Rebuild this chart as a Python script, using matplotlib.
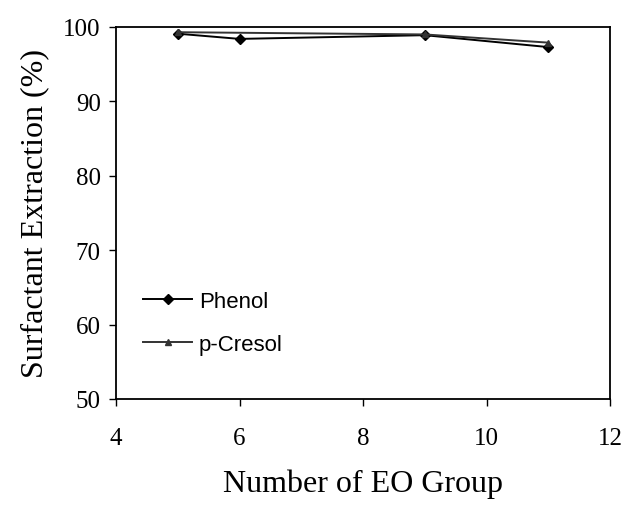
import matplotlib
matplotlib.use("Agg")
import matplotlib.pyplot as plt

eo_groups = [5, 6, 9, 11]
phenol = [99.1, 98.4, 98.9, 97.3]
eo_cresol = [5, 9, 11]
cresol = [99.3, 99.0, 97.9]

plt.rcParams['font.family'] = ['Liberation Serif', 'DejaVu Serif']

fig = plt.figure(figsize=(6.32, 5.06), dpi=100)
ax = fig.add_axes([116/632, 1-400/506, (610-116)/632, (400-28)/506])

ax.plot(eo_groups, phenol, color='black', lw=1.4, marker='D', ms=5, label='Phenol')
ax.plot(eo_cresol, cresol, color='#333333', lw=1.4, marker='^', ms=5, label='p-Cresol')

ax.set_xlim(4, 12)
ax.set_ylim(50, 100)
ax.set_xticks([4, 6, 8, 10, 12])
ax.set_yticks([50, 60, 70, 80, 90, 100])
ax.tick_params(axis='both', labelsize=18, direction='out', length=5, width=1)
ax.tick_params(axis='x', pad=15)
ax.tick_params(axis='y', pad=6)
for s in ax.spines.values():
    s.set_linewidth(1.3)

ax.set_xlabel('Number of EO Group', fontsize=23, labelpad=14)
ax.set_ylabel('Surfactant Extraction (%)', fontsize=23, labelpad=10)

ax.legend(loc='lower left', bbox_to_anchor=(0.015, 0.065), frameon=False,
          prop={'family': 'Liberation Sans', 'size': 16},
          handlelength=2.2, handletextpad=0.3, labelspacing=1.0)

fig.savefig('out.png', dpi=100)
